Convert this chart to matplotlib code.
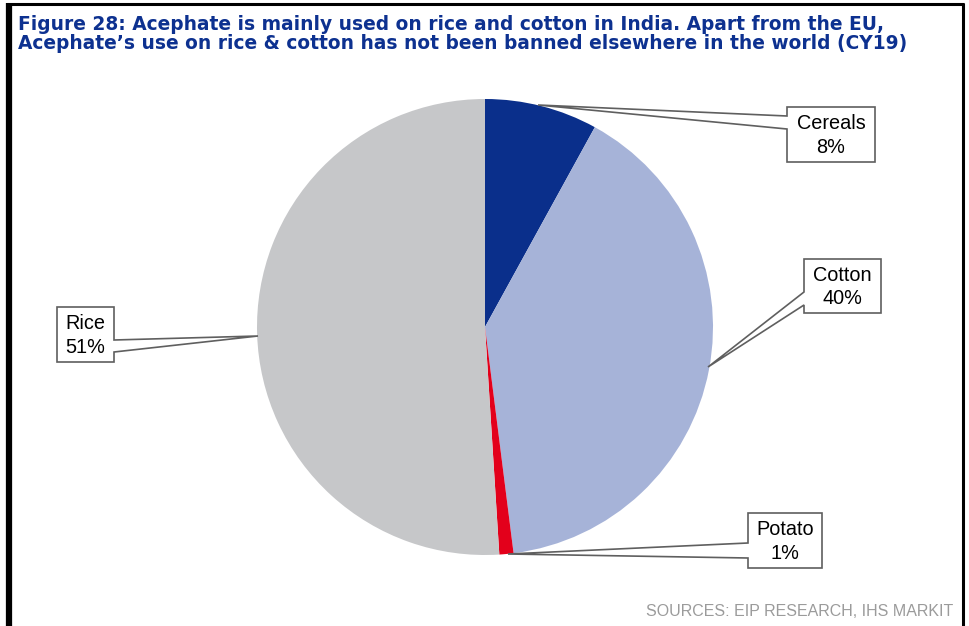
import numpy as np
import matplotlib.pyplot as plt
from matplotlib.patches import Polygon

# Acephate use by crop in India, CY19 (%)
crops = ["Cereals", "Cotton", "Potato", "Rice"]
shares = [8, 40, 1, 51]
colors = ["#0A2F8B", "#A6B3D8", "#E3001B", "#C6C7C9"]

title_lines = [
    "Figure 28: Acephate is mainly used on rice and cotton in India. Apart from the EU,",
    "Acephate\u2019s use on rice & cotton has not been banned elsewhere in the world (CY19)",
]
source = "SOURCES: EIP RESEARCH, IHS MARKIT"

W, H = 969, 626
plt.rcParams["font.family"] = ["Liberation Sans", "DejaVu Sans"]
fig = plt.figure(figsize=(W / 100, H / 100), dpi=100)
ax = fig.add_axes([0, 0, 1, 1])


def py(y):
    # pixel rows counted from the top
    return H - y


cx, cy, r = 485, py(327), 228
ax.pie(shares, colors=colors, startangle=90, counterclock=False,
       center=(cx, cy), radius=r, wedgeprops=dict(linewidth=0))
ax.set_xlim(0, W)
ax.set_ylim(0, H)
ax.set_aspect("auto")
ax.axis("off")

# callout boxes: box (x0, y0, x1, y1), side of the pointer, attach rows, tip
callouts = {
    "Cereals": ((787, 107, 875, 162), "left", (116, 129), (538, 105)),
    "Cotton": ((804, 259, 881, 313), "left", (292, 305), (708, 367)),
    "Potato": ((748, 513, 822, 568), "left", (543, 558), (508, 554)),
    "Rice": ((57, 307, 114, 362), "right", (340, 352), (258, 336)),
}

for name, share in zip(crops, shares):
    (x0, y0, x1, y1), side, (a1, a2), (tx, ty) = callouts[name]
    if side == "left":
        pts = [(x0, y0), (x1, y0), (x1, y1), (x0, y1), (x0, a2), (tx, ty), (x0, a1)]
    else:
        pts = [(x0, y0), (x1, y0), (x1, a1), (tx, ty), (x1, a2), (x1, y1), (x0, y1)]
    pts = [(x, py(y)) for x, y in pts]
    ax.add_patch(Polygon(pts, closed=True, facecolor="white", edgecolor="#5f5f5f",
                         linewidth=1.2, zorder=5))
    ax.text((x0 + x1) / 2, py((y0 + y1) / 2 + 1), f"{name}\n{share}%", ha="center",
            va="center", fontsize=14.3, color="black", linespacing=1.3, zorder=6)

# title: a wide bold face, one text per line
for line, base in zip(title_lines, [30, 49]):
    ax.text(18, py(base), line, ha="left", va="baseline", fontsize=13.4,
            fontweight="bold", color="#0D3190", family=["DejaVu Sans"])

ax.text(953, py(612), source, ha="right", va="center", fontsize=11.5, color="#9B9B9B")

# page frame
ax.plot([9.5, 9.5], [py(3), py(626)], color="black", lw=4.5, solid_capstyle="butt")
ax.plot([7, 964.5], [py(4), py(4)], color="black", lw=2.2, solid_capstyle="butt")
ax.plot([963, 963], [py(3), py(626)], color="black", lw=2.2, solid_capstyle="butt")

fig.savefig("out.png", dpi=100)
